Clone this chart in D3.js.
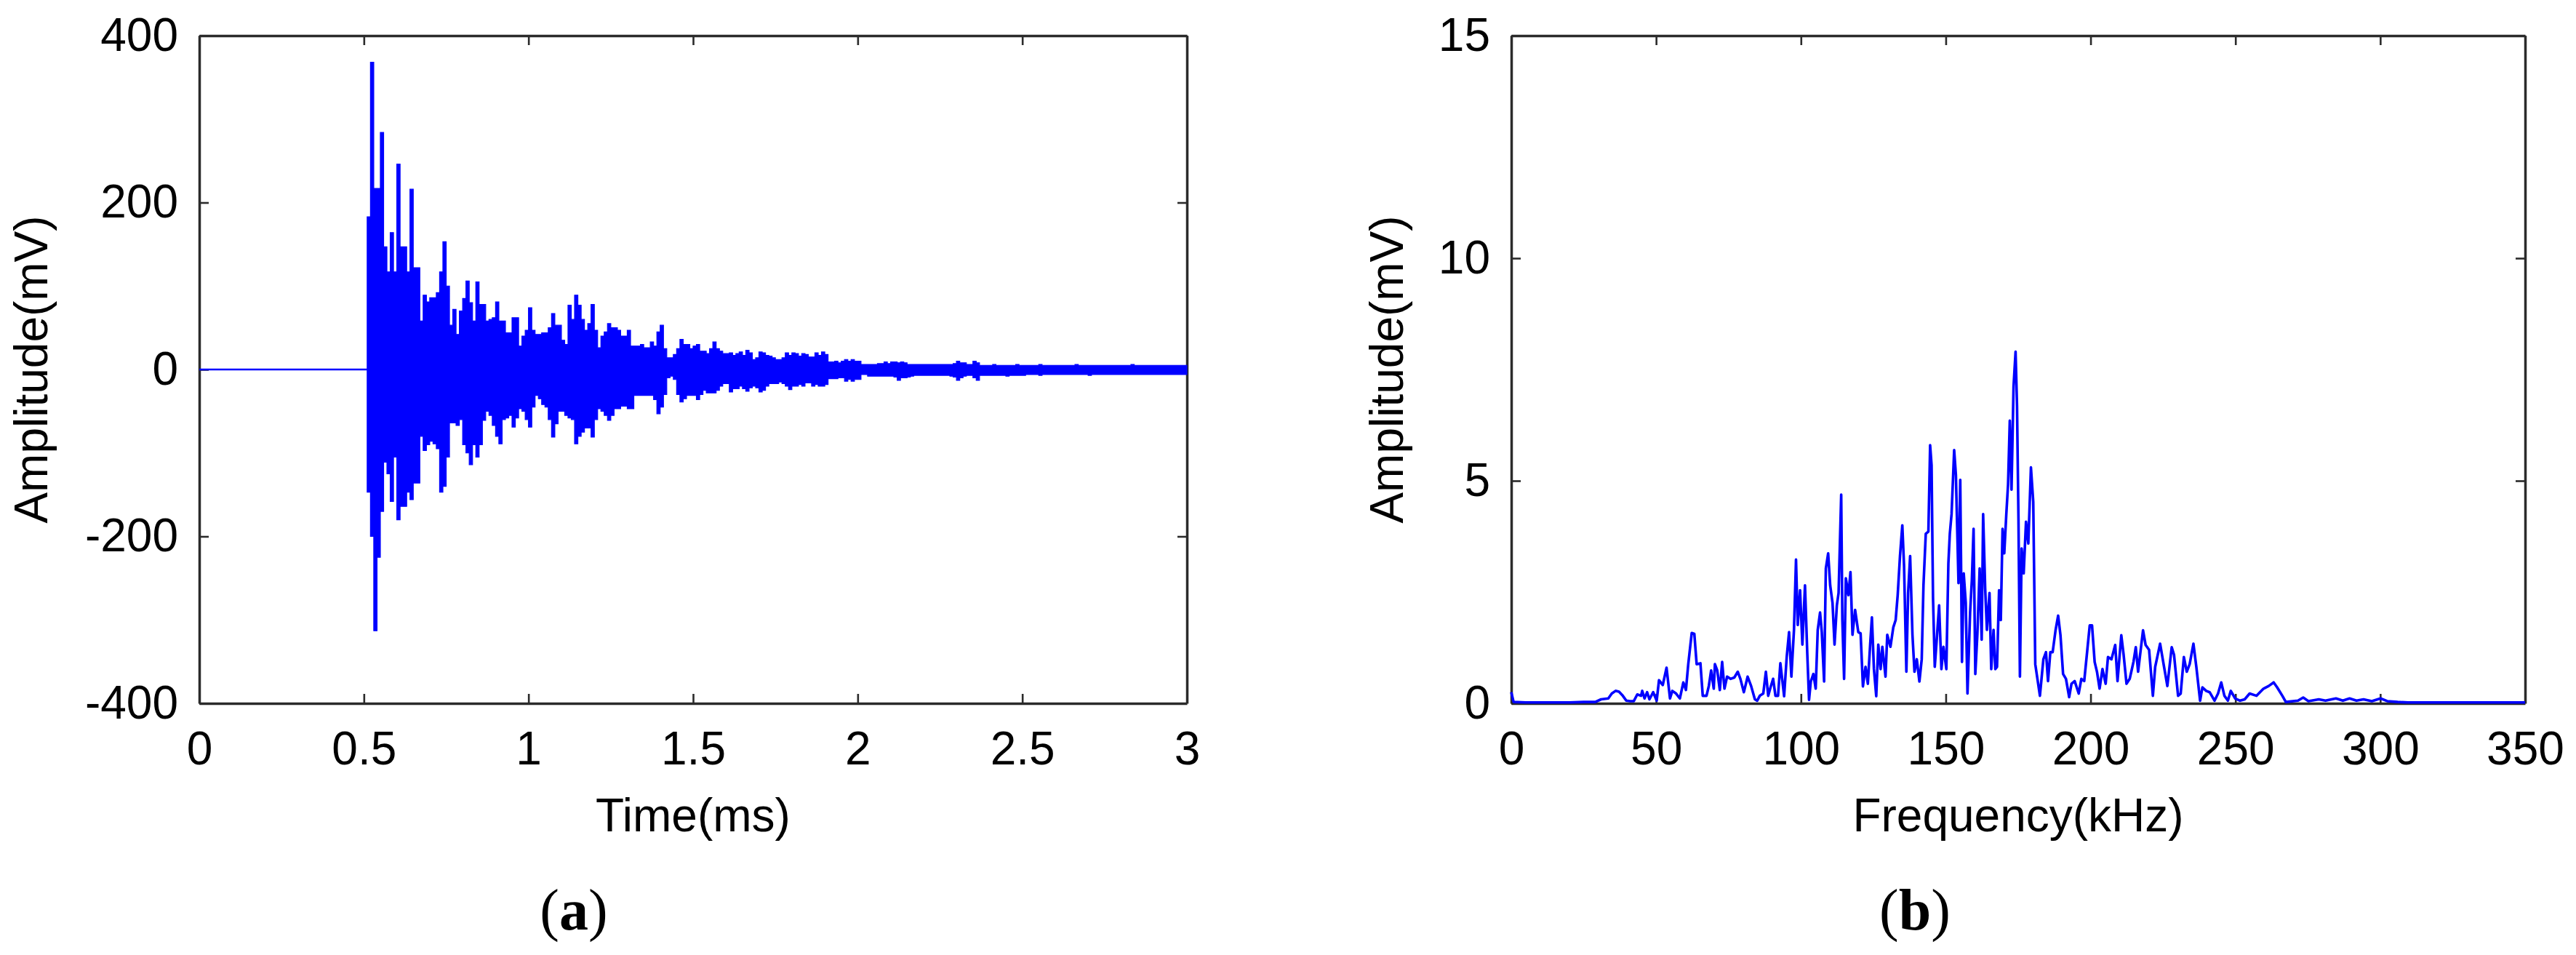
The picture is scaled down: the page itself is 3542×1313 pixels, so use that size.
<!DOCTYPE html>
<html>
<head>
<meta charset="utf-8">
<script src="https://cdn.jsdelivr.net/npm/d3@7"></script>
<style>
  html, body { margin: 0; padding: 0; background: #ffffff; }
  svg { display: block; }
</style>
</head>
<body>
<svg id="fig" width="3542" height="1313"></svg>
<script>
// ---------------- DATA ----------------
// Panel (a): acoustic emission waveform, Time (ms) vs Amplitude (mV)
const timeTicks = [0, 0.5, 1, 1.5, 2, 2.5, 3];
const ampTicksA = [-400, -200, 0, 200, 400];
// quiet baseline before the burst
const quietTime = [0, 0.51];
const quietAmp = [0, 0];
// burst: per-time-bin upper and lower excursion of the dense waveform (mV)
const burstTime = [
0.51,0.52,0.53,0.54,0.55,0.56,0.57,0.58,0.59,0.60,
0.61,0.62,0.63,0.64,0.65,0.66,0.67,0.68,0.69,0.70,
0.71,0.72,0.73,0.74,0.75,0.76,0.77,0.78,0.79,0.80,
0.81,0.82,0.83,0.84,0.85,0.86,0.87,0.88,0.89,0.90,
0.91,0.92,0.93,0.94,0.95,0.96,0.97,0.98,0.99,1.00,
1.01,1.02,1.03,1.04,1.05,1.06,1.07,1.08,1.09,1.10,
1.11,1.12,1.13,1.14,1.15,1.16,1.17,1.18,1.19,1.20,
1.21,1.22,1.23,1.24,1.25,1.26,1.27,1.28,1.29,1.30,
1.31,1.32,1.33,1.34,1.35,1.36,1.37,1.38,1.39,1.40,
1.41,1.42,1.43,1.44,1.45,1.46,1.47,1.48,1.49,1.50,
1.51,1.52,1.53,1.54,1.55,1.56,1.57,1.58,1.59,1.60,
1.61,1.62,1.63,1.64,1.65,1.66,1.67,1.68,1.69,1.70,
1.71,1.72,1.73,1.74,1.75,1.76,1.77,1.78,1.79,1.80,
1.81,1.82,1.83,1.84,1.85,1.86,1.87,1.88,1.89,1.90,
1.91,1.92,1.93,1.94,1.95,1.96,1.97,1.98,1.99,2.00,
2.01,2.02,2.03,2.04,2.05,2.06,2.07,2.08,2.09,2.10,
2.11,2.12,2.13,2.14,2.15,2.16,2.17,2.18,2.19,2.20,
2.21,2.22,2.23,2.24,2.25,2.26,2.27,2.28,2.29,2.30,
2.31,2.32,2.33,2.34,2.35,2.36,2.37,2.38,2.39,2.40,
2.41,2.42,2.43,2.44,2.45,2.46,2.47,2.48,2.49,2.50,
2.51,2.52,2.53,2.54,2.55,2.56,2.57,2.58,2.59,2.60,
2.61,2.62,2.63,2.64,2.65,2.66,2.67,2.68,2.69,2.70,
2.71,2.72,2.73,2.74,2.75,2.76,2.77,2.78,2.79,2.80,
2.81,2.82,2.83,2.84,2.85,2.86,2.87,2.88,2.89,2.90,
2.91,2.92,2.93,2.94,2.95,2.96,2.97,2.98,2.99
];
const burstHi = [
183,368,217,217,284,147,117,164,117,246,
147,147,117,216,122,122,58,89,81,86,
86,92,117,153,100,53,72,42,70,85,
106,80,58,105,78,78,58,60,62,81,
58,58,44,44,62,62,28,40,47,74,
47,42,42,44,44,50,67,53,53,35,
30,77,60,89,77,60,47,55,78,47,
26,40,45,55,50,50,47,40,40,47,
28,28,28,30,26,26,33,28,45,53,
25,14,14,18,25,36,30,30,25,28,
30,22,22,19,25,33,25,22,19,19,
20,17,19,21,17,23,20,12,14,21,
20,17,16,14,12,12,14,20,17,20,
19,16,19,18,15,15,20,17,21,18,
9,9,10,8,10,12,10,12,10,10,
6,6,6,6,6,7,7,9,7,9,
9,8,9,8,6,6,6,6,6,6,
6,6,6,6,6,6,6,6,7,10,
8,8,6,6,10,8,5,5,5,5,
6,5,5,5,5,5,5,6,5,5,
5,5,5,5,6,5,5,5,5,5,
5,5,5,5,5,6,5,5,5,5,
5,5,5,5,5,5,5,5,5,5,
5,5,6,5,5,5,5,5,5,5,
5,5,5,5,5,5,5,5,5
];
const burstLo = [
-147,-200,-313,-225,-170,-111,-125,-158,-105,-180,
-164,-164,-147,-156,-136,-136,-80,-97,-90,-86,
-89,-95,-147,-140,-105,-64,-64,-67,-60,-90,
-100,-114,-90,-105,-90,-61,-50,-55,-67,-80,
-89,-60,-58,-55,-69,-58,-47,-50,-60,-69,
-45,-31,-35,-42,-45,-60,-81,-65,-50,-50,
-55,-58,-60,-89,-80,-75,-70,-70,-81,-60,
-47,-50,-55,-61,-55,-47,-47,-44,-44,-47,
-47,-31,-31,-31,-31,-31,-31,-36,-53,-45,
-30,-10,-8,-12,-30,-39,-35,-31,-31,-31,
-36,-30,-25,-28,-28,-28,-25,-20,-17,-17,
-27,-23,-23,-20,-23,-26,-22,-20,-22,-27,
-25,-20,-17,-17,-17,-15,-17,-20,-24,-20,
-20,-18,-20,-16,-16,-20,-18,-20,-20,-18,
-11,-11,-11,-10,-10,-14,-12,-14,-12,-12,
-6,-6,-8,-8,-8,-8,-8,-8,-8,-8,
-9,-13,-10,-10,-9,-8,-7,-7,-7,-7,
-7,-7,-7,-7,-7,-7,-7,-8,-9,-13,
-10,-8,-7,-7,-10,-13,-7,-7,-7,-7,
-7,-7,-7,-7,-8,-7,-7,-7,-7,-7,
-6,-6,-6,-6,-7,-6,-6,-6,-6,-6,
-6,-6,-6,-6,-6,-6,-6,-6,-6,-7,
-6,-6,-6,-6,-6,-6,-6,-6,-6,-6,
-6,-6,-6,-6,-6,-6,-6,-6,-6,-6,
-6,-6,-6,-6,-6,-6,-6,-6,-6
];

// Panel (b): amplitude spectrum, Frequency (kHz) vs Amplitude (mV)
const freqTicks = [0, 50, 100, 150, 200, 250, 300, 350];
const ampTicksB = [0, 5, 10, 15];
const specFreq = [
0,0.8,5,10,15,20,25,29,31,33.5,34.7,36,37.2,38.5,39.7,41,42.3,43.5,44.8,45.2,
46,46.9,47.7,49,50.2,51,52.3,53.6,54.8,55.6,56.9,58.2,59.4,60.3,61.1,62.3,63.2,64,65.3,66.1,
67.4,68.2,69,69.9,70.3,71.1,72,72.8,73.6,74.5,75.7,77,78.2,79.1,80.3,81.6,82.8,84.1,84.9,85.8,
87,87.9,88.7,89.5,90.4,91.2,92.1,92.9,94.2,95.1,95.9,96.7,97.6,98.3,98.9,99.7,100.5,101.4,102.2,102.8,
103.4,104.3,105.1,105.8,106.6,107.2,108,108.6,109.4,110.1,110.9,111.6,112.4,113,113.9,114.3,114.9,115.5,116.4,117.1,
117.8,118.7,119.8,120.6,121.4,122.3,123.1,123.9,124.5,125.2,126,126.7,127.5,128.1,129.2,129.8,130.9,131.9,132.7,133.4,
134.2,135,135.6,136.4,137,137.7,138.5,139.2,140,140.9,141.7,142.3,143.1,144,144.6,145.1,145.6,146.2,147,147.7,
148.5,149.2,150.2,150.9,151.4,152,152.9,153.5,154.4,155,155.6,156.2,156.9,157.5,158.4,159,159.6,160.2,160.9,161.7,
162.4,162.9,163.6,164.2,165.1,165.7,166.5,167.1,167.7,168.4,169,169.6,170.2,170.9,171.5,172.1,172.7,173.4,174.1,174.6,
175.1,175.6,176.2,176.9,177.7,178.5,179.4,180.2,180.9,182.5,183.7,184.6,185.3,186.1,186.9,187.9,188.8,189.6,190.5,191.5,
192.6,193.4,194.5,195.9,196.8,197.8,198.7,199.7,200.5,201.4,202.2,203.1,204.1,205.2,206,207.2,208.5,209.3,210.6,211.4,
212.4,213.5,214.8,215.6,216.4,218.1,219,220.2,221.5,222.3,224,225.2,226.5,228,228.8,230.2,231.1,232.2,233.2,234.2,
235.5,236.5,237.8,238.6,239.9,241.1,242.8,244,245.1,246.2,247.4,248.4,249.9,251.6,253.2,254.9,257.3,259.7,261.5,263.2,
264.4,266.2,267.4,271.6,273.4,275.2,278.8,281.1,284.7,287.1,289.4,291.8,294.2,297.1,300.1,302.4,306,309.6,320,330,
340,350
];
const specAmp = [
0.25,0.03,0.02,0.02,0.02,0.02,0.03,0.03,0.09,0.11,0.22,0.28,0.26,0.17,0.06,0.05,0.05,0.2,0.17,0.28,
0.11,0.25,0.09,0.25,0.06,0.52,0.41,0.8,0.11,0.28,0.22,0.11,0.47,0.3,0.88,1.58,1.56,0.88,0.9,0.17,
0.17,0.39,0.74,0.33,0.88,0.74,0.3,0.93,0.33,0.6,0.55,0.58,0.71,0.55,0.25,0.6,0.39,0.09,0.06,0.17,
0.22,0.71,0.17,0.36,0.55,0.17,0.17,0.9,0.16,1.05,1.6,0.6,1.65,3.23,1.76,2.54,1.32,2.65,1.1,0.08,
0.49,0.66,0.33,1.65,2.04,1.6,0.49,3.03,3.37,2.65,2.26,1.32,2.2,2.48,4.69,1.87,0.55,2.81,2.43,2.95,
1.54,2.1,1.6,1.57,0.38,0.82,0.44,1.32,1.93,0.77,0.16,1.32,0.77,1.27,0.6,1.54,1.27,1.71,1.87,2.43,
3.31,4.0,3.09,0.71,2.48,3.31,1.54,0.71,0.99,0.49,0.99,2.65,3.81,3.86,5.8,5.35,2.37,0.82,1.54,2.2,
0.77,1.27,0.77,3.14,3.81,4.25,5.69,5.13,2.7,5.02,0.93,2.92,2.26,0.22,2.04,2.76,3.92,0.66,1.54,3.03,
1.43,4.25,2.59,1.65,2.48,0.77,1.65,0.77,0.82,2.54,1.87,3.92,3.37,4.25,4.91,6.35,4.8,7.12,7.9,6.68,
4.14,0.6,3.48,2.92,4.08,3.59,5.3,4.53,0.88,0.17,0.99,1.15,0.5,1.15,1.15,1.64,1.97,1.53,0.66,0.55,
0.14,0.44,0.5,0.22,0.55,0.5,1.09,1.75,1.75,0.93,0.71,0.33,0.77,0.44,1.04,0.99,1.31,0.5,1.53,1.09,
0.44,0.55,0.93,1.26,0.71,1.64,1.31,1.2,0.17,0.82,1.34,0.88,0.39,1.26,1.09,0.17,0.22,1.04,0.71,0.88,
1.34,0.82,0.06,0.36,0.28,0.25,0.06,0.22,0.47,0.17,0.06,0.28,0.11,0.06,0.09,0.22,0.17,0.33,0.39,0.47,
0.36,0.17,0.03,0.06,0.13,0.05,0.09,0.06,0.11,0.06,0.11,0.06,0.09,0.05,0.11,0.05,0.03,0.02,0.02,0.02,
0.02,0.02
];

// ---------------- DRAWING ----------------
const W = 3542, H = 1313;
const FONT = "'Liberation Sans', Arial, Helvetica, sans-serif";
const SERIF = "'Liberation Serif', 'Times New Roman', serif";
const AXIS_COLOR = "#2b2b2b";
const LINE_COLOR = "#0000ff";

const svg = d3.select("#fig");
svg.append("rect").attr("x", 0).attr("y", 0).attr("width", W).attr("height", H).attr("fill", "#ffffff");

function styleAxis(sel) {
  sel.attr("font-size", null).attr("font-family", null);
  sel.select(".domain").attr("stroke", AXIS_COLOR).attr("stroke-width", 3.5);
  sel.selectAll(".tick line").attr("stroke", AXIS_COLOR).attr("stroke-width", 2.6);
  sel.selectAll(".tick text")
    .attr("fill", "#000")
    .style("font-family", FONT)
    .style("font-size", "64px");
}

function panel(cfg) {
  const x = d3.scaleLinear().domain(cfg.xDomain).range([cfg.left, cfg.right]);
  const y = d3.scaleLinear().domain(cfg.yDomain).range([cfg.bottom, cfg.top]);
  const g = svg.append("g");
  const TICK = 13;

  g.append("g").attr("transform", `translate(0,${cfg.top})`)
    .call(d3.axisTop(x).tickValues(cfg.xTicks).tickSizeInner(-TICK).tickSizeOuter(0).tickFormat(() => ""))
    .call(styleAxis);
  g.append("g").attr("transform", `translate(${cfg.right},0)`)
    .call(d3.axisRight(y).tickValues(cfg.yTicks).tickSizeInner(-TICK).tickSizeOuter(0).tickFormat(() => ""))
    .call(styleAxis);
  g.append("g").attr("transform", `translate(0,${cfg.bottom})`)
    .call(d3.axisBottom(x).tickValues(cfg.xTicks).tickSizeInner(-TICK).tickSizeOuter(0).tickPadding(39).tickFormat(d => String(d)))
    .call(styleAxis);
  g.append("g").attr("transform", `translate(${cfg.left},0)`)
    .call(d3.axisLeft(y).tickValues(cfg.yTicks).tickSizeInner(-TICK).tickSizeOuter(0).tickPadding(29).tickFormat(d => String(d)))
    .call(styleAxis);

  g.append("text")
    .attr("x", (cfg.left + cfg.right) / 2).attr("y", cfg.bottom + 176)
    .attr("text-anchor", "middle")
    .style("font-family", FONT).style("font-size", "64px").attr("fill", "#000")
    .text(cfg.xLabel);
  g.append("text")
    .attr("transform", `translate(${cfg.yLabelX},${(cfg.top + cfg.bottom) / 2}) rotate(-90)`)
    .attr("text-anchor", "middle")
    .style("font-family", FONT).style("font-size", "64px").attr("fill", "#000")
    .text(cfg.yLabel);

  const s = g.append("text")
    .attr("x", cfg.subX).attr("y", 1278)
    .attr("text-anchor", "middle")
    .style("font-family", SERIF).style("font-size", "80px").attr("fill", "#000");
  s.append("tspan").text("(");
  s.append("tspan").style("font-weight", "bold").text(cfg.sub);
  s.append("tspan").text(")");

  return { g, x, y };
}

// Panel (a)
const A = panel({
  left: 274, right: 1632, top: 49, bottom: 967,
  xDomain: [0, 3], yDomain: [-400, 400],
  xTicks: timeTicks, yTicks: ampTicksA,
  xLabel: "Time(ms)", yLabel: "Amplitude(mV)", yLabelX: 65,
  sub: "a", subX: 789
});
// quiet baseline
A.g.append("path")
  .datum(quietTime.map((t, i) => [t, quietAmp[i]]))
  .attr("fill", "none")
  .attr("stroke", LINE_COLOR)
  .attr("stroke-width", 2.6)
  .attr("d", d3.line().x(d => A.x(d[0])).y(d => A.y(d[1])));
// dense burst: each time bin is filled between its lower and upper excursion
const burst = burstTime.map((t, i) => ({ t, hi: burstHi[i], lo: burstLo[i] }));
burst.push({ t: 3, hi: burstHi[burstHi.length - 1], lo: burstLo[burstLo.length - 1] });
A.g.append("path")
  .datum(burst)
  .attr("fill", LINE_COLOR)
  .attr("stroke", LINE_COLOR)
  .attr("stroke-width", 1.2)
  .attr("stroke-linejoin", "miter")
  .attr("d", d3.area()
    .curve(d3.curveStepAfter)
    .x(d => A.x(d.t))
    .y0(d => A.y(d.lo))
    .y1(d => A.y(d.hi)));

// Panel (b)
const B = panel({
  left: 2078, right: 3472, top: 49, bottom: 967,
  xDomain: [0, 350], yDomain: [0, 15],
  xTicks: freqTicks, yTicks: ampTicksB,
  xLabel: "Frequency(kHz)", yLabel: "Amplitude(mV)", yLabelX: 1929,
  sub: "b", subX: 2633
});
B.g.append("path")
  .datum(specFreq.map((f, i) => [f, specAmp[i]]))
  .attr("fill", "none")
  .attr("stroke", LINE_COLOR)
  .attr("stroke-width", 3.6)
  .attr("stroke-linejoin", "round")
  .attr("d", d3.line().x(d => B.x(d[0])).y(d => B.y(d[1])));
</script>
</body>
</html>
